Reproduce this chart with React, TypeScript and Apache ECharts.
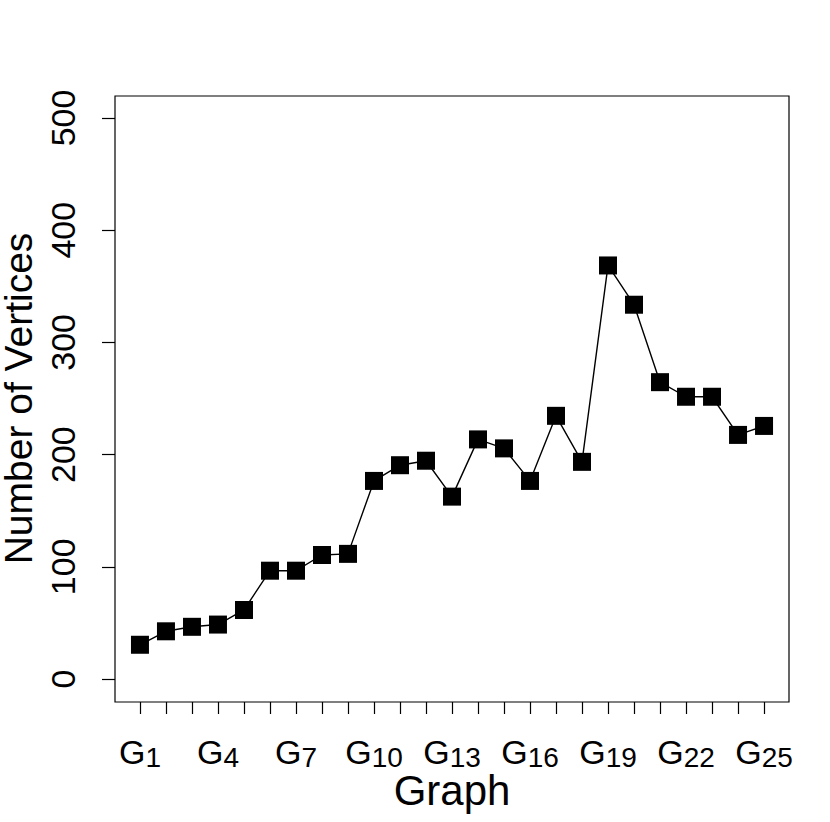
import React, { useEffect, useRef } from "react";
import * as echarts from "echarts";

const graphIndex: number[] = [1, 2, 3, 4, 5, 6, 7, 8, 9, 10, 11, 12, 13, 14, 15, 16, 17, 18, 19, 20, 21, 22, 23, 24, 25];
const vertices: number[] = [31, 43, 47, 49, 62, 97, 97, 111, 112, 177, 191, 195, 163, 214, 206, 177, 235, 194, 369, 334, 265, 252, 252, 218, 226];
const labeledTicks: number[] = [1, 4, 7, 10, 13, 16, 19, 22, 25];
const yTicks: number[] = [0, 100, 200, 300, 400, 500];

const FONT = "Liberation Sans, Arial, Helvetica, sans-serif";

export default function App() {
  const ref = useRef<HTMLDivElement>(null);
  useEffect(() => {
    if (!ref.current) return;
    const chart = echarts.init(ref.current, undefined, { renderer: "svg" });
    const option: any = {
      animation: false,
      backgroundColor: "#ffffff",
      textStyle: { fontFamily: FONT },
      grid: [
        { left: 115, right: 41, top: 96, bottom: 120, show: true, borderColor: "#000", borderWidth: 1.2, backgroundColor: "transparent", outerBoundsMode: "none", containLabel: false },
        { left: 140, right: 66, top: 118, bottom: 143, show: false, outerBoundsMode: "none", containLabel: false },
      ],
      xAxis: [
        { type: "value", gridIndex: 0, min: 0.04, max: 25.96, show: false },
        {
          type: "value",
          gridIndex: 1,
          min: 1,
          max: 25,
          interval: 1,
          offset: 23,
          name: "Graph",
          nameLocation: "middle",
          nameGap: 70,
          nameMoveOverlap: false,
          nameTextStyle: { fontSize: 42, lineHeight: 36, color: "#000", fontFamily: FONT },
          axisLine: { show: false, onZero: false },
          axisTick: { show: true, inside: false, length: 12, lineStyle: { color: "#000", width: 1.2 } },
          splitLine: { show: false },
          axisLabel: {
            margin: 33,
            color: "#000",
            formatter: (v: number) => (labeledTicks.indexOf(v) >= 0 ? `{g|G}{s|${v}}` : ""),
            rich: {
              g: { fontSize: 34, fontFamily: FONT, color: "#000", lineHeight: 40, verticalAlign: "top" },
              s: { fontSize: 28, fontFamily: FONT, color: "#000", lineHeight: 40, verticalAlign: "top", padding: [8, 0, 0, 0] },
            },
          },
        },
      ],
      yAxis: [
        { type: "value", gridIndex: 0, min: -20, max: 520, show: false },
        {
          type: "value",
          gridIndex: 1,
          min: 0,
          max: 500,
          interval: 100,
          offset: 25,
          name: "Number of Vertices",
          nameLocation: "middle",
          nameGap: 77,
          nameTextStyle: { fontSize: 39, color: "#000", fontFamily: FONT },
          axisLine: { show: false, onZero: false },
          axisTick: { show: true, inside: false, length: 13, lineStyle: { color: "#000", width: 1.2 } },
          splitLine: { show: false },
          axisLabel: {
            rotate: 90,
            margin: 35,
            fontSize: 34,
            color: "#000",
            fontFamily: FONT,
            formatter: (v: number) => (yTicks.indexOf(v) >= 0 ? String(v) : ""),
          },
        },
      ],
      series: [
        {
          type: "line",
          xAxisIndex: 0,
          yAxisIndex: 0,
          data: graphIndex.map((g, i) => [g, vertices[i]]),
          symbol: "rect",
          symbolSize: 18,
          itemStyle: { color: "#000" },
          lineStyle: { color: "#000", width: 1.4 },
          silent: true,
        },
      ],
    };
    chart.setOption(option);
    return () => chart.dispose();
  }, []);
  return <div ref={ref} style={{ width: 830, height: 822, position: "absolute", left: 0, top: 0 }} />;
}
